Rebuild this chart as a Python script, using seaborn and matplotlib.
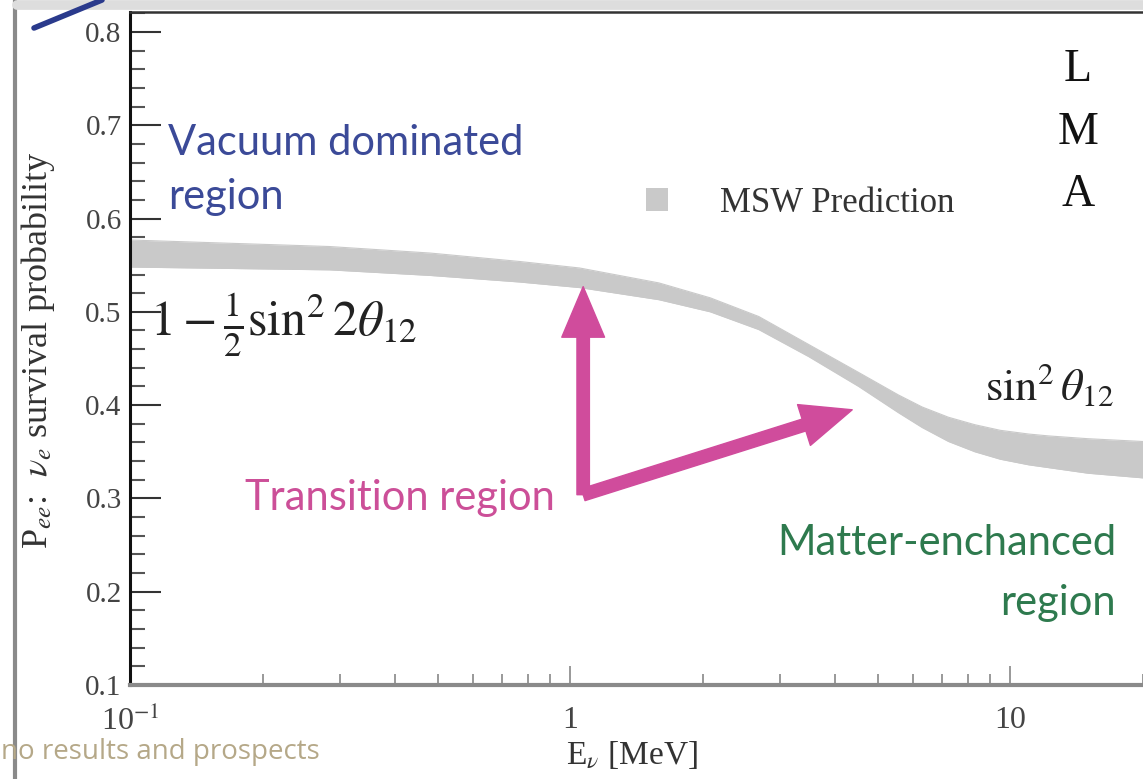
import numpy as np
import pandas as pd
import matplotlib
matplotlib.use("Agg")
import matplotlib.pyplot as plt
import seaborn as sns
from matplotlib.patches import Patch
from matplotlib.lines import Line2D

# ---- data ----
energy_mev = [0.1, 0.284, 0.481, 0.766, 1.05, 1.59, 2.08, 2.68, 3.48, 4.52, 5.56, 6.3, 7.23, 8.3, 9.48, 11.0, 12.2, 15.0, 20.0]
band_upper = [0.577, 0.570, 0.563, 0.554, 0.547, 0.531, 0.515, 0.495, 0.465, 0.435, 0.411, 0.398, 0.387, 0.379, 0.373, 0.369, 0.367, 0.364, 0.361]
band_lower = [0.548, 0.545, 0.539, 0.532, 0.526, 0.513, 0.500, 0.481, 0.452, 0.420, 0.392, 0.376, 0.361, 0.350, 0.342, 0.336, 0.333, 0.327, 0.322]
y_ticks = [0.1, 0.2, 0.3, 0.4, 0.5, 0.6, 0.7, 0.8]
y_ticklabels = ["0.1", "0.2", "0.3", "0.4", "0.5", "0.6", "0.7", "0.8"]
x_ticks = [0.1, 1, 10]
x_ticklabels = [r"10$^{-1}$", "1", "10"]
legend_label = "MSW Prediction"

df = pd.DataFrame({"E": energy_mev, "upper": band_upper, "lower": band_lower})

sns.set_theme(style="ticks")
plt.rcParams["mathtext.fontset"] = "stix"
plt.rcParams["font.family"] = ["Liberation Serif", "DejaVu Serif"]

W, H = 1143, 779
fig = plt.figure(figsize=(W / 100, H / 100), dpi=100)
fig.patch.set_facecolor("white")

def fx(px):
    return px / W

def fy(py):
    return 1 - py / H

ax = fig.add_axes([fx(130), fy(685), fx(1143) - fx(130), fy(12) - fy(685)])
ax.set_xscale("log")
ax.set_xlim(0.1, 20.0)
ax.set_ylim(0.1, 0.8214)

band_color = "#c9c9c9"
ax.fill_between(df["E"], df["lower"], df["upper"], color=band_color, lw=0, zorder=2)
sns.lineplot(data=df, x="E", y="upper", ax=ax, color=band_color, lw=0.8, zorder=2)
sns.lineplot(data=df, x="E", y="lower", ax=ax, color=band_color, lw=0.8, zorder=2)

# axes styling
ax.spines["right"].set_visible(False)
ax.spines["left"].set_color("#111111")
ax.spines["left"].set_linewidth(2.2)
ax.spines["top"].set_color("#333333")
ax.spines["top"].set_linewidth(1.8)
ax.spines["bottom"].set_color("#8a8a8a")
ax.spines["bottom"].set_linewidth(3)

ax.set_yticks(y_ticks)
ax.set_yticklabels(y_ticklabels)
ax.set_yticks(np.arange(0.1, 0.821, 0.02), minor=True)
ax.set_xticks(x_ticks)
ax.set_xticklabels(x_ticklabels)
ax.xaxis.set_minor_locator(matplotlib.ticker.LogLocator(base=10, subs=np.arange(2, 10), numticks=20))
ax.xaxis.set_minor_formatter(matplotlib.ticker.NullFormatter())

ax.tick_params(axis="y", which="major", direction="in", length=22, width=1.5, color="#333333",
               labelsize=21, labelcolor="#444444", pad=6)
ax.tick_params(axis="y", which="minor", direction="in", length=11, width=1.5, color="#555555")
ax.tick_params(axis="x", which="major", direction="in", length=14, width=1.2, color="#888888",
               labelsize=23, labelcolor="#444444", pad=15)
ax.tick_params(axis="x", which="minor", direction="in", length=8, width=1.2, color="#888888")
ax.tick_params(top=False, right=False, which="both")

ax.set_xlabel(r"E$_\nu$ [MeV]", fontsize=24, color="#333333")
ax.xaxis.set_label_coords((632 - 130) / (1143 - 130), -(755 - 685) / (685 - 12))
ax.xaxis.label.set_va("center")
ax.set_ylabel(r"P$_{ee}$:  $\nu_e$ survival probability", fontsize=26, color="#333333")
ax.yaxis.set_label_coords((38 - 130) / (1143 - 130), (685 - 350) / (685 - 12))
ax.yaxis.label.set_va("center")
ax.grid(False)

# legend
leg = ax.legend(handles=[Patch(facecolor=band_color, edgecolor="none")], labels=[legend_label],
                frameon=False, loc="center left", bbox_to_anchor=(fx(646), fy(203)),
                bbox_transform=fig.transFigure, handlelength=0.63, handleheight=0.63,
                handletextpad=1.5, borderpad=0, borderaxespad=0,
                prop={"family": "Liberation Serif", "size": 25})
for t in leg.get_texts():
    t.set_color("#333333")

# arrows (data coordinates)
mag = "#d04c9c"
corner = (1.07, 0.304)
astyle = "simple,head_length=1.3,head_width=1.1,tail_width=0.32"
ax.annotate("", xy=(1.07, 0.527), xytext=corner, zorder=5,
            arrowprops=dict(arrowstyle=astyle, color=mag, shrinkA=0, shrinkB=0, mutation_scale=28))
ax.annotate("", xy=(4.37, 0.395), xytext=corner, zorder=5,
            arrowprops=dict(arrowstyle=astyle, color=mag, shrinkA=0, shrinkB=0, mutation_scale=28))

# text annotations
sans = ["Lato", "DejaVu Sans"]
fs_region = 30
fig.text(fx(168), fy(143), "Vacuum dominated", family=sans, fontsize=fs_region, color="#3b4a98", va="center", ha="left")
fig.text(fx(168), fy(197), "region", family=sans, fontsize=fs_region, color="#3b4a98", va="center", ha="left")
fig.text(fx(245), fy(498), "Transition region", family=sans, fontsize=fs_region, color="#cc4f98", va="center", ha="left")
fig.text(fx(1116), fy(543), "Matter-enchanced", family=sans, fontsize=fs_region, color="#2e7a4e", va="center", ha="right")
fig.text(fx(1116), fy(603), "region", family=sans, fontsize=fs_region, color="#2e7a4e", va="center", ha="right")

fig.text(fx(150), fy(325), r"$1-\frac{1}{2}\sin^2 2\theta_{12}$", fontsize=36, color="#222222", va="center", ha="left")
fig.text(fx(985), fy(385), r"$\sin^2\theta_{12}$", fontsize=32, color="#222222", va="center", ha="left")

for letter, py in zip(["L", "M", "A"], [70, 133, 195]):
    fig.text(fx(1078), fy(py), letter, fontsize=33, color="#111111", va="center", ha="center",
             family=["Liberation Serif"])

# slide decorations
fig.add_artist(Line2D([fx(15), fx(15)], [0, 1], color="#8a8a8a", lw=3, transform=fig.transFigure))
fig.add_artist(Line2D([fx(17), 1], [fy(5), fy(5)], color="#dddddd", lw=7, transform=fig.transFigure))
fig.add_artist(Line2D([fx(34), fx(102)], [fy(28), fy(0)], color="#2a3a8c", lw=4, transform=fig.transFigure))
fig.text(fx(1), fy(752), "no results and prospects", family=["Open Sans", "DejaVu Sans"], fontsize=20,
         color="#b5a888", va="center", ha="left")

fig.savefig("out.png", dpi=100, facecolor="white")
